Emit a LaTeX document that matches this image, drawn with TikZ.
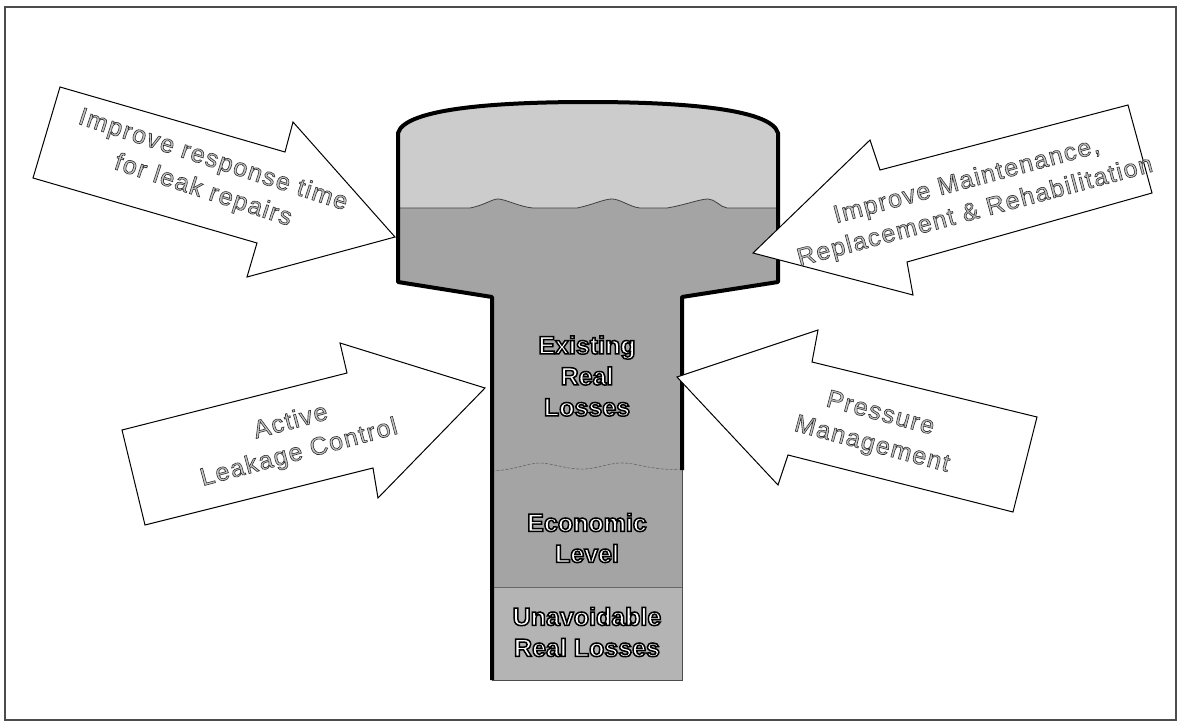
\documentclass[tikz,border=0pt]{standalone}
\usepackage{fontspec}
\setmainfont{Liberation Sans}
\newfontfamily\arrowfont{Liberation Sans}[LetterSpace=6,FakeBold=2.5]
\newfontfamily\tankfont{Liberation Sans Bold}[FakeBold=6]
\definecolor{airgray}{RGB}{204,204,204}
\definecolor{watergray}{RGB}{164,164,164}
\definecolor{basegray}{RGB}{180,180,180}
% fill and outline colours of the lettering
\newcommand{\arrowline}[1]{\special{pdf:bcolor [0.78] [0.2]}#1\special{pdf:ecolor}}
\newcommand{\tankline}[1]{\special{pdf:bcolor [1] [0]}#1\special{pdf:ecolor}}

\begin{document}
\begin{tikzpicture}[x=1pt,y=-1pt,
  bigarrow/.style={draw=black,line width=1pt,fill=white,line join=miter},
  arrowtext/.style={font=\arrowfont\fontsize{25}{32}\selectfont,align=center,inner sep=0pt},
  tanktext/.style={font=\tankfont\fontsize{25}{31}\selectfont,align=center,inner sep=0pt}]
  \useasboundingbox (0,0) rectangle (1181,723);
  % Frame
  \draw[black!70,line width=1.5pt] (5,7) rectangle (1176,720);
  % Tank body (water)
  \fill[watergray] (398,133) .. controls (405,108) and (500,102) .. (588,102)
    .. controls (676,102) and (771,108) .. (778,133) -- (778,282) -- (682,297)
    -- (682,680) -- (492,680) -- (492,297) -- (398,282) -- cycle;
  % Air above the water
  \filldraw[fill=airgray,draw=black!75,line width=0.8pt] (398,133) .. controls (405,108) and (500,102) .. (588,102)
    .. controls (676,102) and (771,108) .. (778,133) -- (778,208) -- (727,208)
    .. controls (720,207) and (715,199) .. (708,199) .. controls (700,199) and (685,205) .. (667,208)
    -- (640,208) .. controls (630,207) and (620,199) .. (612,199) .. controls (604,199) and (592,205) .. (577,208)
    -- (533,208) .. controls (520,207) and (505,199) .. (498,199) .. controls (492,199) and (485,205) .. (470,208)
    -- (398,208) -- cycle;
  % Unavoidable level
  \fill[basegray] (492,587) rectangle (682,680);
  \draw[black!60,line width=0.8pt] (492,587) -- (682,587);
  % Economic level surface
  \draw[black!60,line width=0.6pt,dash pattern=on 3pt off 1.5pt] (492,471)
    .. controls (515,470) and (528,463) .. (540,463) .. controls (552,463) and (568,470) .. (585,469)
    .. controls (600,468) and (612,462) .. (625,463) .. controls (640,464) and (655,471) .. (682,469);
  % Tank outline
  \draw[black,line width=4pt,line join=round] (492,680) -- (492,297) -- (398,282) -- (398,133)
    .. controls (405,108) and (500,102) .. (588,102) .. controls (676,102) and (771,108) .. (778,133)
    -- (778,282) -- (682,297) -- (682,470);
  \draw[black!70,line width=1pt] (682,470) -- (682,680) -- (492,680);
  % Arrows
  \draw[bigarrow] (60,87) -- (285,152) -- (293,122) -- (395,237) -- (247,277) -- (257,243) -- (33,178) -- cycle;
  \draw[bigarrow] (753,253) -- (870,140) -- (880,170) -- (1128,105) -- (1152,193) -- (907,262) -- (913,295) -- cycle;
  \draw[bigarrow] (122,430) -- (347,373) -- (340,343) -- (485,388) -- (378,498) -- (373,468) -- (145,525) -- cycle;
  \draw[bigarrow] (677,377) -- (818,330) -- (812,362) -- (1037,417) -- (1013,512) -- (788,455) -- (778,485) -- cycle;
  % Arrow labels
  \node[arrowtext,rotate=-18] (txtresponse) at (208,176) {\arrowline{Improve response time}\\\arrowline{for leak repairs}};
  \node[arrowtext,rotate=15] (txtmaint) at (971,197) {\arrowline{Improve Maintenance,}\\\arrowline{Replacement \& Rehabilitation}};
  \node[arrowtext,rotate=15] (txtactive) at (295,438) {\arrowline{Active}\\\arrowline{Leakage Control}};
  \node[arrowtext,rotate=-15] (txtpressure) at (876,430) {\arrowline{Pressure}\\\arrowline{Management}};
  % Tank labels
  \node[tanktext] (txtexisting) at (587,376) {\tankline{Existing}\\\tankline{Real}\\\tankline{Losses}};
  \node[tanktext] (txteconomic) at (587,538) {\tankline{Economic}\\\tankline{Level}};
  \node[tanktext] (txtunavoid) at (587,632) {\tankline{Unavoidable}\\\tankline{Real Losses}};
\end{tikzpicture}
\end{document}
